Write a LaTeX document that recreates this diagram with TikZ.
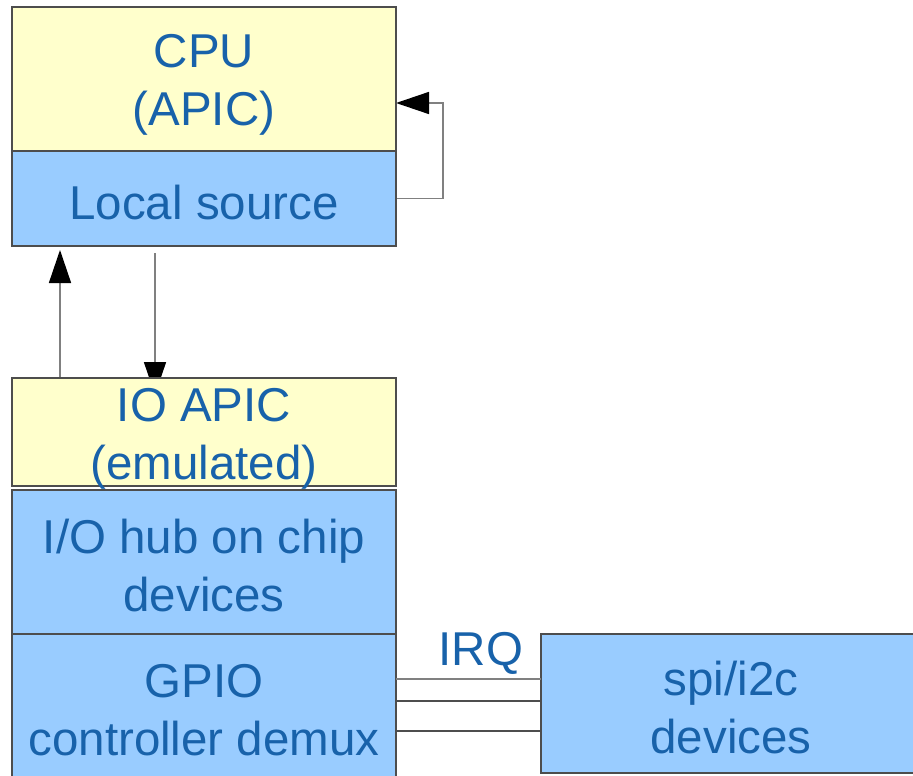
\documentclass[tikz,border=0pt]{standalone}
\usepackage{fontspec}
\setmainfont{Liberation Sans}
\usetikzlibrary{arrows.meta,calc,backgrounds}
\definecolor{boxyellow}{HTML}{FFFFCC}
\definecolor{boxblue}{HTML}{99CCFF}
\definecolor{txtblue}{HTML}{1862AA}
\definecolor{linegray}{HTML}{808080}
\definecolor{bordergray}{HTML}{4D4D4D}
\tikzset{
  blk/.style={draw=bordergray, line width=1.2pt, anchor=north west, minimum width=384pt,
    inner sep=0pt, outer sep=0pt},
  yel/.style={blk, fill=boxyellow},
  blu/.style={blk, fill=boxblue},
  conn/.style={draw=linegray, line width=1.5pt},
  arr/.style={conn, -{Triangle[length=33pt,width=22pt]}, arrows={[color=black]}},
  lbl/.style={text=txtblue, font=\fontsize{47.5}{57.5}\selectfont, inner sep=0pt, align=center}
}
\begin{document}
\begin{tikzpicture}[x=1pt,y=-1pt]
\useasboundingbox (0,0) rectangle (913,776);
\node[yel, minimum height=144pt] (cpu) at (12,7) {};
\node[blu, minimum height=95pt] (local) at (12,151) {};
\node[yel, minimum height=108pt] (ioapic) at (12,378) {};
\node[blu, minimum height=144pt] (hub) at (12,490) {};
\node[blu, minimum height=150pt] (gpio) at (12,634) {};
\node[blu, minimum height=139pt, minimum width=380pt] (spi) at (541,634) {};
\node[lbl] (cputxt) at ($(cpu.center)+(0,6)$) {CPU\\(APIC)};
\node[lbl] (localtxt) at ($(local.center)+(0,4)$) {Local source};
\node[lbl] (ioapictxt) at ($(ioapic.center)+(0,7)$) {IO APIC\\(emulated)};
\node[lbl] (hubtxt) at ($(hub.center)+(0,3.5)$) {I/O hub on chip\\devices};
\node[lbl] (gpiotxt) at ($(gpio.center)+(0,1)$) {GPIO\\controller demux};
\node[lbl] (spitxt) at ($(spi.center)+(0,4)$) {spi/i2c\\devices};
\node[lbl] (irq) at (481,653) {IRQ};
\coordinate (loopin) at ($(cpu.north east)+(0,96)$);
\coordinate (upstart) at ($(ioapic.north west)+(48,0)$);
\coordinate (upend) at ($(local.south west)+(48,4)$);
\coordinate (dnstart) at ($(local.south west)+(143,7)$);
\coordinate (dnend) at ($(ioapic.north west)+(143,17)$);
\begin{scope}[on background layer]
\draw[arr] (local.east) -- ++(47,0) |- (loopin);
\draw[arr] (upstart) -- (upend);
\draw[arr] (dnstart) -- (dnend);
\end{scope}
\draw[conn] (gpio.north east |- 0,679) -- (spi.north west |- 0,679);
\draw[conn, draw=bordergray] (gpio.north east |- 0,701) -- (spi.north west |- 0,701);
\draw[conn, draw=bordergray] (gpio.north east |- 0,731) -- (spi.north west |- 0,731);
\end{tikzpicture}
\end{document}
